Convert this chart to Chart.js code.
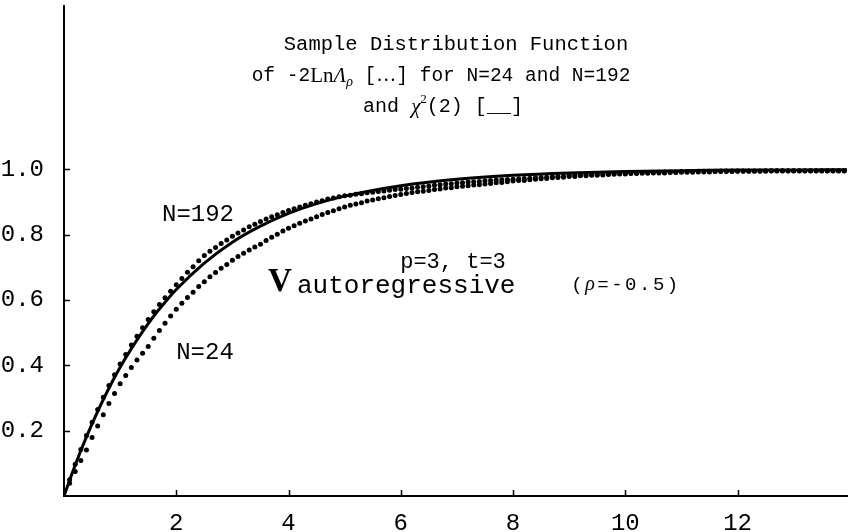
<!DOCTYPE html>
<html>
<head>
<meta charset="utf-8">
<script src="https://cdn.jsdelivr.net/npm/chart.js@4/dist/chart.umd.min.js"></script>
<style>
  html, body { margin: 0; padding: 0; background: #fff; }
</style>
</head>
<body>
<canvas id="cdfChart" width="851" height="532"></canvas>
<script>
const xTicks = [2, 4, 6, 8, 10, 12];
const yTicks = [0.2, 0.4, 0.6, 0.8, 1.0];

// chi-square(2) reference curve
const chiX = [0, 0.2, 0.4, 0.6, 0.8, 1, 1.2, 1.4, 1.6, 1.8, 2, 2.5, 3, 3.5, 4, 4.5, 5, 6, 7, 8, 9, 10, 11, 12, 13, 13.95];
const chiY = [0, .095, .181, .259, .330, .394, .451, .503, .551, .593, .632, .713, .777, .826, .865, .895, .918, .950, .970, .982, .989, .993, .996, .998, .998, .999];

// sample distribution functions (dotted)
const sampleX = [
  0.1, 0.2, 0.3, 0.4, 0.5, 0.6, 0.7, 0.8, 0.9, 1.0,
  1.1, 1.2, 1.3, 1.4, 1.5, 1.6, 1.7, 1.8, 1.9, 2.0,
  2.1, 2.2, 2.3, 2.4, 2.5, 2.6, 2.7, 2.8, 2.9, 3.0,
  3.1, 3.2, 3.3, 3.4, 3.5, 3.6, 3.7, 3.8, 3.9, 4.0,
  4.1, 4.2, 4.3, 4.4, 4.5, 4.6, 4.7, 4.8, 4.9, 5.0,
  5.1, 5.2, 5.3, 5.4, 5.5, 5.6, 5.7, 5.8, 5.9, 6.0,
  6.1, 6.2, 6.3, 6.4, 6.5, 6.6, 6.7, 6.8, 6.9, 7.0,
  7.1, 7.2, 7.3, 7.4, 7.5, 7.6, 7.7, 7.8, 7.9, 8.0,
  8.1, 8.2, 8.3, 8.4, 8.5, 8.6, 8.7, 8.8, 8.9, 9.0,
  9.1, 9.2, 9.3, 9.4, 9.5, 9.6, 9.7, 9.8, 9.9, 10.0,
  10.1, 10.2, 10.3, 10.4, 10.5, 10.6, 10.7, 10.8, 10.9, 11.0,
  11.1, 11.2, 11.3, 11.4, 11.5, 11.6, 11.7, 11.8, 11.9, 12.0,
  12.1, 12.2, 12.3, 12.4, 12.5, 12.6, 12.7, 12.8, 12.9, 13.0,
  13.1, 13.2, 13.3, 13.4, 13.5, 13.6, 13.7, 13.8, 13.9
];
const n192 = [
  .050, .097, .142, .185, .226, .265, .302, .338, .371, .404,
  .433, .462, .489, .515, .540, .564, .586, .607, .627, .647,
  .666, .685, .702, .720, .736, .749, .761, .773, .784, .795,
  .805, .814, .824, .832, .840, .848, .855, .861, .868, .874,
  .879, .885, .890, .895, .900, .904, .909, .912, .916, .919,
  .921, .924, .925, .928, .930, .932, .934, .936, .938, .939,
  .941, .943, .945, .947, .949, .951, .953, .955, .956, .958,
  .959, .961, .962, .963, .965, .966, .967, .968, .969, .970,
  .971, .972, .973, .974, .975, .976, .977, .978, .979, .981,
  .982, .983, .983, .984, .985, .986, .986, .987, .988, .988,
  .989, .989, .990, .990, .991, .991, .992, .992, .992, .993,
  .993, .993, .994, .994, .994, .994, .995, .995, .995, .995,
  .995, .995, .995, .995, .996, .996, .996, .996, .996, .996,
  .996, .996, .996, .996, .996, .996, .996, .996, .996
];
const n24 = [
  .039, .075, .109, .141, .179, .214, .249, .283, .314, .344,
  .369, .393, .416, .437, .458, .483, .507, .529, .551, .572,
  .590, .608, .624, .641, .656, .671, .684, .697, .709, .722,
  .733, .743, .753, .762, .771, .782, .792, .801, .811, .820,
  .827, .835, .842, .848, .855, .862, .868, .873, .879, .885,
  .890, .894, .898, .903, .906, .910, .913, .917, .920, .923,
  .926, .929, .931, .933, .935, .938, .940, .943, .944, .947,
  .948, .950, .952, .953, .955, .957, .959, .960, .962, .964,
  .966, .966, .968, .970, .971, .972, .974, .975, .976, .978,
  .978, .980, .980, .982, .982, .983, .984, .985, .986, .986,
  .987, .987, .988, .988, .989, .989, .989, .990, .990, .991,
  .991, .991, .992, .992, .992, .993, .993, .993, .993, .994,
  .994, .994, .994, .994, .994, .995, .995, .995, .995, .995,
  .995, .995, .995, .995, .995, .995, .995, .995, .995
];

const MONO = "'Liberation Mono', 'DejaVu Sans Mono', monospace";
const SERIF = "'Liberation Serif', 'DejaVu Serif', serif";

function toPoints(xs, ys) {
  return xs.map((x, i) => ({ x: x, y: ys[i] }));
}

// draw a row of text pieces [text, font, dy] centred on cx (or starting at cx)
function drawRich(ctx, parts, cx, cy, align) {
  let total = 0;
  parts.forEach(p => { ctx.font = p[1]; total += ctx.measureText(p[0]).width; });
  let x = align === "left" ? cx : cx - total / 2;
  parts.forEach(p => {
    ctx.font = p[1];
    ctx.fillText(p[0], x, cy + (p[2] || 0));
    x += ctx.measureText(p[0]).width;
  });
}

const annotations = {
  id: "annotations",
  afterDraw(chart) {
    const ctx = chart.ctx;
    const xs = chart.scales.x, ys = chart.scales.y;
    const area = chart.chartArea;
    ctx.save();
    // inward tick marks
    ctx.strokeStyle = "#000";
    ctx.lineWidth = 1.5;
    ctx.beginPath();
    xTicks.forEach(v => {
      const px = Math.round(xs.getPixelForValue(v)) + 0.5;
      ctx.moveTo(px, area.bottom);
      ctx.lineTo(px, area.bottom - 6);
    });
    yTicks.forEach(v => {
      const py = Math.round(ys.getPixelForValue(v)) + 0.5;
      ctx.moveTo(area.left, py);
      ctx.lineTo(area.left + 6, py);
    });
    ctx.stroke();

    ctx.fillStyle = "#000";
    ctx.textAlign = "left";
    ctx.textBaseline = "middle";
    drawRich(ctx, [["Sample Distribution Function", "20.5px " + MONO]], 456, 45);
    drawRich(ctx, [
      ["of -2", "19.5px " + MONO],
      ["Ln", "21px " + SERIF],
      ["\u039B", "italic 21px " + SERIF],
      ["\u03C1", "italic 14px " + SERIF, 6],
      [" [", "19.5px " + MONO],
      ["\u2026", "20px " + SERIF],
      ["] for N=24 and N=192", "19.5px " + MONO]
    ], 441, 76);
    drawRich(ctx, [
      ["and ", "20px " + MONO],
      ["\u03C7", "italic 21px " + SERIF],
      ["2", "13px " + SERIF, -7],
      ["(2) [__]", "20px " + MONO]
    ], 443, 107);

    drawRich(ctx, [["N=192", "24px " + MONO]], 198, 215);
    drawRich(ctx, [["N=24", "24px " + MONO]], 205, 353);
    drawRich(ctx, [["p=3, t=3", "22px " + MONO]], 453, 262);
    drawRich(ctx, [["V", "bold 33px " + SERIF]], 268, 282, "left");
    drawRich(ctx, [["autoregressive", "26px " + MONO]], 297, 286, "left");
    ctx.letterSpacing = "2.5px";
    drawRich(ctx, [
      ["(", "19px " + MONO],
      ["\u03C1", "italic 20px " + SERIF],
      ["=-0.5)", "19px " + MONO]
    ], 626, 285);
    ctx.letterSpacing = "0px";
    ctx.restore();
  }
};

const ctx = document.getElementById("cdfChart").getContext("2d");
const chart = new Chart(ctx, {
  type: "scatter",
  data: {
    datasets: [
      {
        type: "line",
        label: "chi2(2)",
        data: toPoints(chiX, chiY),
        borderColor: "#000",
        borderWidth: 3,
        pointRadius: 0,
        cubicInterpolationMode: "monotone",
        fill: false
      },
      {
        label: "N=192",
        data: toPoints(sampleX, n192),
        backgroundColor: "#000",
        borderWidth: 0,
        pointRadius: 2.5
      },
      {
        label: "N=24",
        data: toPoints(sampleX, n24),
        backgroundColor: "#000",
        borderWidth: 0,
        pointRadius: 2.5
      }
    ]
  },
  options: {
    responsive: false,
    animation: false,
    devicePixelRatio: 1,
    layout: { padding: { top: 6, right: 0, left: 0, bottom: 0 } },
    plugins: {
      legend: { display: false },
      tooltip: { enabled: false }
    },
    scales: {
      x: {
        type: "linear",
        min: 0,
        max: 13.95,
        grid: { display: false },
        border: { display: true, color: "#000", width: 2 },
        afterBuildTicks: s => { s.ticks = xTicks.map(v => ({ value: v })); },
        afterFit: s => { s.height = 36; s.paddingLeft = 0; s.paddingRight = 0; },
        ticks: {
          color: "#000",
          padding: 5,
          maxRotation: 0,
          font: { family: MONO, size: 24 },
          callback: v => String(v)
        }
      },
      y: {
        type: "linear",
        min: 0,
        max: 1.5,
        grid: { display: false },
        border: { display: true, color: "#000", width: 2 },
        afterBuildTicks: s => { s.ticks = yTicks.map(v => ({ value: v })); },
        afterFit: s => { s.width = 64; s.paddingTop = 0; s.paddingBottom = 0; },
        ticks: {
          color: "#000",
          padding: 12,
          font: { family: MONO, size: 24 },
          callback: v => v.toFixed(1)
        }
      }
    }
  },
  plugins: [annotations]
});
</script>
</body>
</html>
